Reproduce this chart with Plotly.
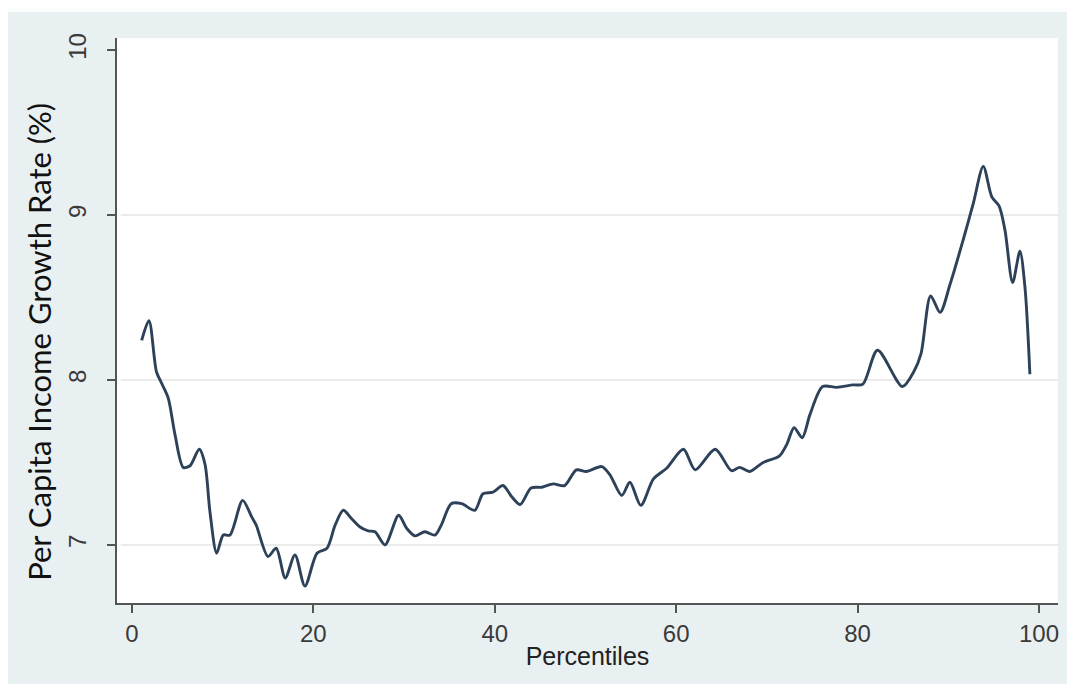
import plotly.graph_objects as go

# Percentile positions and per-capita income growth rate (%)
percentiles = [1.07, 1.87, 2.7, 3.27, 4.0, 4.74, 5.66, 6.4, 7.42, 8.05, 8.6, 9.34, 10.07, 10.8,
               12.2, 13.2, 13.7, 15.0, 15.9, 16.9, 17.97, 19.07, 20.4, 21.5, 22.4, 23.3, 24.2,
               25.1, 26.05, 26.8, 27.9, 29.4, 30.3, 31.2, 32.3, 33.4, 34.1, 35.2, 36.35, 37.8,
               38.7, 39.8, 40.9, 41.9, 42.8, 44.0, 45.2, 46.45, 47.7, 49.0, 50.1, 51.8, 52.7,
               54.0, 54.9, 56.1, 57.5, 58.95, 60.8, 62.1, 64.3, 66.1, 67.0, 68.1, 69.6, 71.4,
               72.2, 73.0, 73.9, 74.75, 76.15, 77.7, 79.5, 80.6, 82.2, 84.95, 86.2, 87.0, 88.06,
               89.1, 90.2, 91.65, 92.76, 93.86, 94.8, 95.6, 96.25, 97.1, 97.9, 98.46, 99.0]
growth = [8.24, 8.36, 8.05, 7.98, 7.89, 7.67, 7.47, 7.48, 7.58, 7.49, 7.2, 6.95, 7.06, 7.06,
          7.27, 7.17, 7.12, 6.93, 6.98, 6.80, 6.94, 6.75, 6.95, 6.98, 7.12, 7.21, 7.16,
          7.11, 7.085, 7.08, 7.00, 7.18, 7.10, 7.055, 7.08, 7.06, 7.12, 7.25, 7.25, 7.21,
          7.31, 7.32, 7.36, 7.29, 7.245, 7.345, 7.35, 7.37, 7.36, 7.455, 7.445, 7.475, 7.425,
          7.30, 7.38, 7.24, 7.40, 7.465, 7.58, 7.455, 7.58, 7.45, 7.47, 7.445, 7.50, 7.54,
          7.61, 7.71, 7.65, 7.79, 7.96, 7.955, 7.97, 7.975, 8.18, 7.96, 8.05, 8.16, 8.51,
          8.41, 8.58, 8.85, 9.07, 9.295, 9.11, 9.055, 8.91, 8.59, 8.78, 8.56, 8.035]

x_ticks = [0, 20, 40, 60, 80, 100]
y_ticks = [7, 8, 9, 10]
grid_values = [7, 8, 9]

x_title = "Percentiles"
y_title = "Per Capita Income Growth Rate (%)"

tick_font = dict(family="Liberation Sans, Arial, sans-serif", size=24, color="#3a3a3a")

fig = go.Figure()
fig.add_trace(go.Scatter(
    x=percentiles, y=growth, mode="lines",
    line=dict(color="#2d4259", width=2.9, shape="spline", smoothing=0.8),
    hoverinfo="x+y", showlegend=False,
))

for g in grid_values:
    fig.add_shape(type="line", xref="paper", x0=0.004, x1=1, yref="y", y0=g, y1=g,
                  line=dict(color="#ebebeb", width=2), layer="below")

# light top strip of the scanned image
fig.add_shape(type="rect", xref="paper", yref="paper", x0=-0.2, x1=1.1,
              y0=1.0 + 26 / 565, y1=1.2, fillcolor="#fbfcfc", line=dict(width=0),
              layer="below")

fig.add_annotation(
    text=y_title, xref="paper", yref="paper", x=-0.083, y=0.462,
    xanchor="center", yanchor="middle", textangle=-90, showarrow=False,
    font=dict(family="Lato, Open Sans, sans-serif", size=31, color="#111111"),
)

fig.update_layout(
    width=1067, height=676,
    margin=dict(l=109, r=17, t=30, b=81),
    paper_bgcolor="#e9f0f1",
    plot_bgcolor="#ffffff",
    xaxis=dict(
        range=[-1.65, 102.1], tickvals=x_ticks, ticks="outside", ticklen=8,
        tickwidth=1.5, tickcolor="#555555", showline=True, linecolor="#555555",
        linewidth=1.6, showgrid=False, zeroline=False, tickfont=tick_font,
        title=dict(text=x_title, font=dict(family="Liberation Sans, Arial, sans-serif",
                                           size=25, color="#222222"), standoff=2),
    ),
    yaxis=dict(
        range=[6.648, 10.073], tickvals=y_ticks, ticks="outside", ticklen=8,
        tickwidth=1.5, tickcolor="#555555", showline=True, linecolor="#555555",
        linewidth=1.6, showgrid=False, zeroline=False, tickfont=tick_font,
        tickangle=-90, ticklabelstandoff=12,
    ),
)

fig.write_html("out.html")
